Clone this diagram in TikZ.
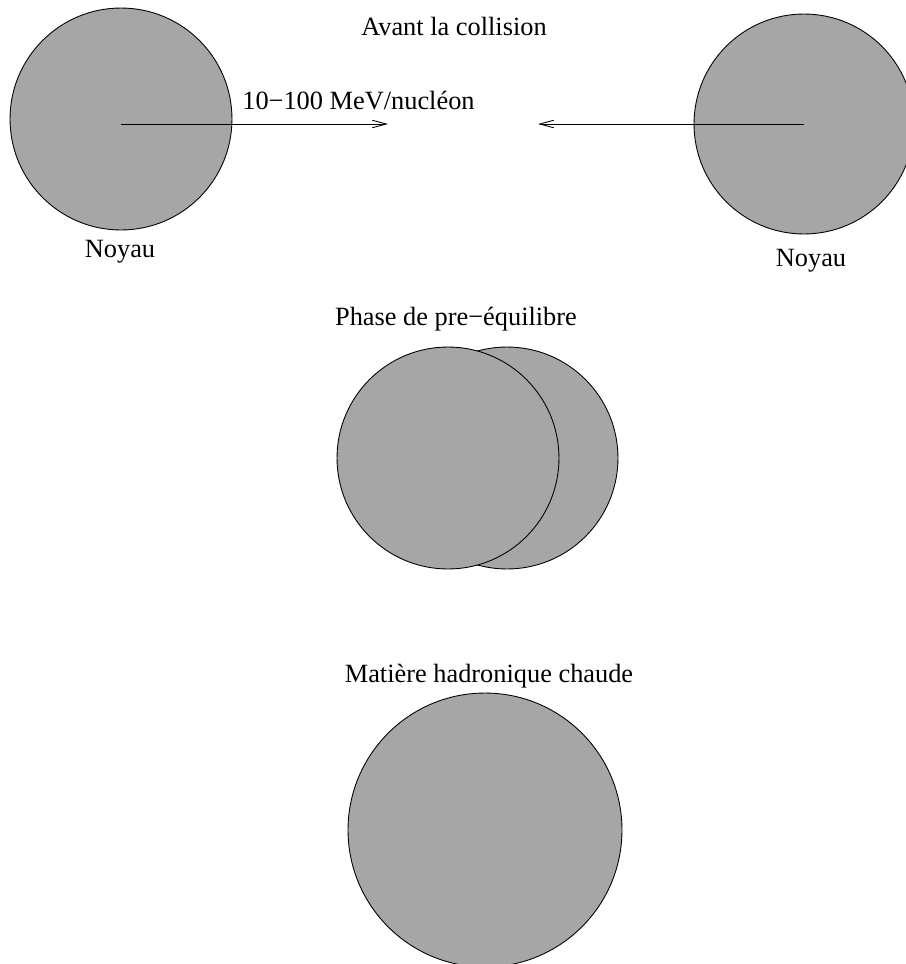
\documentclass[tikz,border=0pt]{standalone}
\usepackage{fontspec}
\setmainfont{Liberation Serif}
\usetikzlibrary{arrows.meta}
\definecolor{gris}{gray}{0.65}
\tikzset{
  noyau/.style={circle,draw,fill=gris,inner sep=0pt,line width=0.5pt},
  legende/.style={anchor=base,inner sep=0pt,font=\fontsize{15}{18}\selectfont},
  fleche/.style={-{Straight Barb[length=2.8mm,width=1.5mm]},line width=0.5pt}
}
\begin{document}
\begin{tikzpicture}[x=0.02cm,y=-0.02cm]
    \useasboundingbox (0,0) rectangle (906,964);
    \node[noyau,minimum size=4.44cm] (noyaug) at (121,119) {};
    \node[noyau,minimum size=4.40cm] (noyaud) at (804,124) {};
    \node[noyau,minimum size=4.44cm] (arriere) at (507,458) {};
    \node[noyau,minimum size=4.44cm] (avant) at (448,458) {};
    \node[noyau,minimum size=5.48cm] (matiere) at (485,830) {};
    \coordinate (departg) at (121,124);
    \coordinate (pointeg) at (388,124);
    \coordinate (pointed) at (538,124);
    \draw[fleche] (departg) -- (pointeg);
    \draw[fleche] (noyaud.center) -- (pointed);
    \node[legende] (avantcoll) at (454,35) {Avant la collision};
    \node[legende,anchor=base west] (energie) at (242,109) {10−100 MeV/nucléon};
    \node[legende] (noyaugtxt) at (120,257) {Noyau};
    \node[legende] (noyaudtxt) at (811,266) {Noyau};
    \node[legende] (phase) at (456,325) {Phase de pre−équilibre};
    \node[legende] (chaude) at (489,682) {Matière hadronique chaude};
\end{tikzpicture}
\end{document}
